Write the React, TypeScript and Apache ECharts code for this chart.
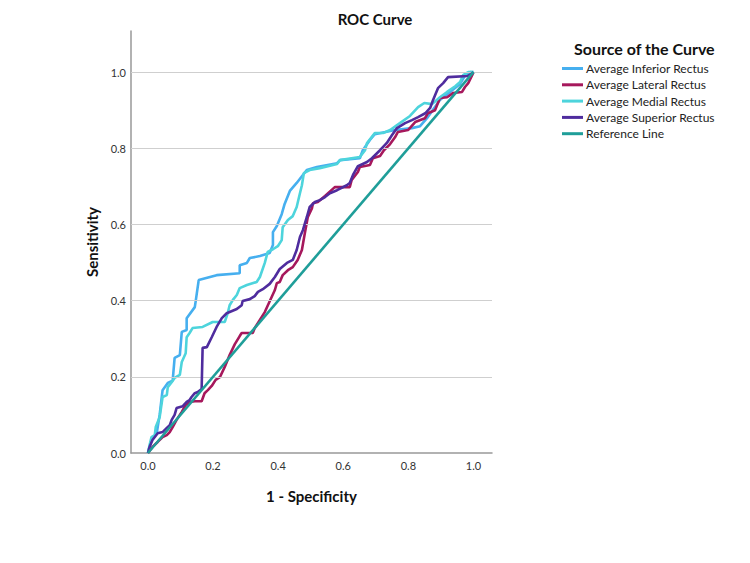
import React, { useEffect, useRef } from "react";
import * as echarts from "echarts";

const seriesNames = [
  "Average Inferior Rectus",
  "Average Lateral Rectus",
  "Average Medial Rectus",
  "Average Superior Rectus",
  "Reference Line",
];

const inferiorRectus = [
  [0, 0], [0.011, 0.034], [0.027, 0.052], [0.036, 0.1], [0.045, 0.165], [0.061, 0.184],
  [0.076, 0.19], [0.082, 0.25], [0.098, 0.257], [0.104, 0.318], [0.119, 0.323], [0.119, 0.354],
  [0.144, 0.383], [0.147, 0.4], [0.156, 0.454], [0.211, 0.467], [0.282, 0.472], [0.282, 0.493],
  [0.304, 0.499], [0.313, 0.512], [0.344, 0.517], [0.374, 0.525], [0.384, 0.546], [0.384, 0.58],
  [0.396, 0.596], [0.411, 0.627], [0.42, 0.654], [0.436, 0.688], [0.457, 0.709], [0.476, 0.73],
  [0.488, 0.743], [0.519, 0.751], [0.581, 0.761], [0.59, 0.769], [0.651, 0.774], [0.66, 0.795],
  [0.682, 0.822], [0.697, 0.837], [0.759, 0.848], [0.811, 0.853], [0.836, 0.858], [0.86, 0.882],
  [0.897, 0.927], [0.928, 0.948], [0.959, 0.969], [0.975, 0.992], [0.99, 1.0], [1.0, 1.0],
];

const lateralRectus = [
  [0, 0], [0.014, 0.016], [0.03, 0.029], [0.045, 0.042], [0.058, 0.047], [0.067, 0.055],
  [0.076, 0.068], [0.088, 0.087], [0.104, 0.108], [0.116, 0.126], [0.128, 0.134], [0.144, 0.136],
  [0.165, 0.136], [0.174, 0.157], [0.184, 0.165], [0.196, 0.176], [0.208, 0.192], [0.221, 0.199],
  [0.236, 0.226], [0.251, 0.257], [0.267, 0.286], [0.282, 0.307], [0.288, 0.315], [0.322, 0.315],
  [0.328, 0.328], [0.359, 0.37], [0.39, 0.428], [0.396, 0.446], [0.405, 0.449], [0.414, 0.467],
  [0.43, 0.48], [0.445, 0.488], [0.46, 0.507], [0.473, 0.533], [0.482, 0.577], [0.491, 0.619],
  [0.504, 0.643], [0.507, 0.656], [0.522, 0.659], [0.544, 0.675], [0.574, 0.698], [0.62, 0.698],
  [0.626, 0.717], [0.645, 0.738], [0.651, 0.751], [0.682, 0.756], [0.691, 0.774], [0.713, 0.78],
  [0.725, 0.795], [0.744, 0.811], [0.759, 0.829], [0.768, 0.843], [0.799, 0.848], [0.821, 0.869],
  [0.851, 0.879], [0.86, 0.892], [0.882, 0.9], [0.897, 0.932], [0.919, 0.934], [0.937, 0.945],
  [0.965, 0.948], [0.974, 0.961], [0.984, 0.971], [0.996, 0.992], [1.0, 1.0],
];

const medialRectus = [
  [0, 0], [0.005, 0.021], [0.011, 0.042], [0.021, 0.047], [0.024, 0.068], [0.036, 0.094],
  [0.045, 0.147], [0.058, 0.152], [0.061, 0.173], [0.073, 0.186], [0.082, 0.197], [0.098, 0.205],
  [0.104, 0.239], [0.116, 0.262], [0.119, 0.304], [0.128, 0.315], [0.137, 0.328], [0.168, 0.331],
  [0.199, 0.344], [0.236, 0.344], [0.245, 0.367], [0.251, 0.388], [0.261, 0.402], [0.273, 0.415],
  [0.282, 0.433], [0.304, 0.441], [0.334, 0.449], [0.344, 0.462], [0.359, 0.499], [0.368, 0.528],
  [0.384, 0.535], [0.399, 0.543], [0.411, 0.559], [0.414, 0.593], [0.43, 0.612], [0.445, 0.622],
  [0.457, 0.646], [0.467, 0.682], [0.473, 0.703], [0.479, 0.735], [0.497, 0.743], [0.528, 0.748],
  [0.581, 0.759], [0.59, 0.769], [0.651, 0.777], [0.667, 0.795], [0.673, 0.814], [0.697, 0.84],
  [0.722, 0.84], [0.744, 0.848], [0.774, 0.866], [0.805, 0.885], [0.83, 0.908], [0.849, 0.919],
  [0.873, 0.916], [0.897, 0.934], [0.919, 0.948], [0.944, 0.963], [0.959, 0.974], [0.968, 0.992],
  [0.984, 1.0], [1.0, 1.0],
];

const superiorRectus = [
  [0, 0], [0.005, 0.016], [0.014, 0.034], [0.03, 0.052], [0.045, 0.055], [0.058, 0.066],
  [0.067, 0.073], [0.073, 0.087], [0.082, 0.1], [0.088, 0.118], [0.107, 0.123], [0.119, 0.134],
  [0.128, 0.139], [0.134, 0.147], [0.144, 0.157], [0.153, 0.16], [0.165, 0.168], [0.168, 0.276],
  [0.181, 0.278], [0.196, 0.304], [0.211, 0.331], [0.227, 0.354], [0.242, 0.367], [0.273, 0.378],
  [0.288, 0.388], [0.291, 0.399], [0.313, 0.404], [0.328, 0.412], [0.338, 0.423], [0.353, 0.43],
  [0.374, 0.444], [0.39, 0.462], [0.405, 0.483], [0.427, 0.499], [0.445, 0.507], [0.457, 0.533],
  [0.467, 0.567], [0.476, 0.585], [0.488, 0.619], [0.497, 0.646], [0.513, 0.659], [0.528, 0.664],
  [0.544, 0.672], [0.559, 0.682], [0.581, 0.69], [0.611, 0.703], [0.62, 0.709], [0.63, 0.73],
  [0.645, 0.753], [0.673, 0.764], [0.688, 0.774], [0.713, 0.795], [0.734, 0.814], [0.75, 0.835],
  [0.765, 0.853], [0.79, 0.866], [0.811, 0.874], [0.83, 0.882], [0.852, 0.892], [0.867, 0.906],
  [0.876, 0.927], [0.891, 0.958], [0.907, 0.971], [0.922, 0.987], [0.983, 0.99], [0.996, 0.997],
  [1.0, 1.0],
];

const referenceLine = [
  [0, 0],
  [1, 1],
];

const tickValues = [0, 0.2, 0.4, 0.6, 0.8, 1.0];
const gridValues = [0.2, 0.4, 0.6, 0.8, 1.0];

const colors = ["#46AFEF", "#A6185C", "#4DD4DC", "#4F2C9E", "#1F9E99"];

const FONT = "Lato, 'Open Sans', sans-serif";

export default function App() {
  const ref = useRef<HTMLDivElement>(null);
  useEffect(() => {
    if (!ref.current) return;
    const chart = echarts.init(ref.current, null, { renderer: "svg" });
    const datasets = [inferiorRectus, lateralRectus, medialRectus, superiorRectus, referenceLine];
    const option: any = {
      animation: false,
      backgroundColor: "#ffffff",
      textStyle: { fontFamily: FONT },
      title: [
        {
          text: "ROC Curve",
          left: "center",
          top: 6,
          textStyle: { fontFamily: FONT, fontSize: 15, fontWeight: "bold", color: "#111" },
        },
        {
          text: "Source of the Curve",
          left: 569,
          top: 35,
          textStyle: { fontFamily: FONT, fontSize: 16, fontWeight: "bold", color: "#111" },
        },
      ],
      legend: {
        data: seriesNames,
        orient: "vertical",
        left: 562,
        top: 62.5,
        padding: 0,
        itemWidth: 21,
        itemHeight: 3,
        itemGap: 4.3,
        icon: "rect",
        textStyle: { fontFamily: FONT, fontSize: 12, color: "#222", padding: [0, 0, 0, -2] },
        selectedMode: false,
      },
      grid: { left: 131, right: 258, top: 31, bottom: 110, containLabel: false },
      xAxis: {
        type: "value",
        min: -0.052,
        max: 1.057,
        name: "1 - Specificity",
        nameLocation: "middle",
        nameGap: 35,
        nameTextStyle: { fontFamily: FONT, fontSize: 15, fontWeight: "bold", color: "#111" },
        axisLine: { show: true, lineStyle: { color: "#999999", width: 1.5 } },
        axisTick: { show: false },
        splitLine: { show: false },
        axisLabel: {
          customValues: tickValues,
          formatter: (v: number) => v.toFixed(1),
          fontFamily: FONT,
          fontSize: 11,
          color: "#333",
          margin: 7,
        },
      },
      yAxis: {
        type: "value",
        min: 0,
        max: 1.108,
        name: "Sensitivity",
        nameLocation: "middle",
        nameGap: 32,
        nameTextStyle: { fontFamily: FONT, fontSize: 15, fontWeight: "bold", color: "#111" },
        axisLine: { show: true, onZero: false, lineStyle: { color: "#999999", width: 1.5 } },
        axisTick: { show: false },
        splitLine: { show: false },
        axisLabel: {
          customValues: tickValues,
          formatter: (v: number) => v.toFixed(1),
          fontFamily: FONT,
          fontSize: 11,
          color: "#333",
          margin: 5,
        },
      },
      series: [
        {
          type: "line",
          name: "__grid",
          data: [],
          z: 1,
          silent: true,
          markLine: {
            silent: true,
            symbol: "none",
            label: { show: false },
            lineStyle: { color: "#cfcfcf", width: 1.2, type: "solid" },
            data: gridValues.map((v) => ({ yAxis: v })),
          },
        },
        ...seriesNames.map((name, i) => ({
          type: "line",
          name,
          data: datasets[i],
          showSymbol: false,
          symbol: "none",
          z: 2 + i,
          color: colors[i],
          lineStyle: { color: colors[i], width: 2.6 },
        })),
      ],
    };
    chart.setOption(option);
    return () => chart.dispose();
  }, []);
  return (
    <div
      ref={ref}
      style={{ position: "fixed", left: 0, top: 0, width: 750, height: 563, background: "#fff" }}
    />
  );
}
